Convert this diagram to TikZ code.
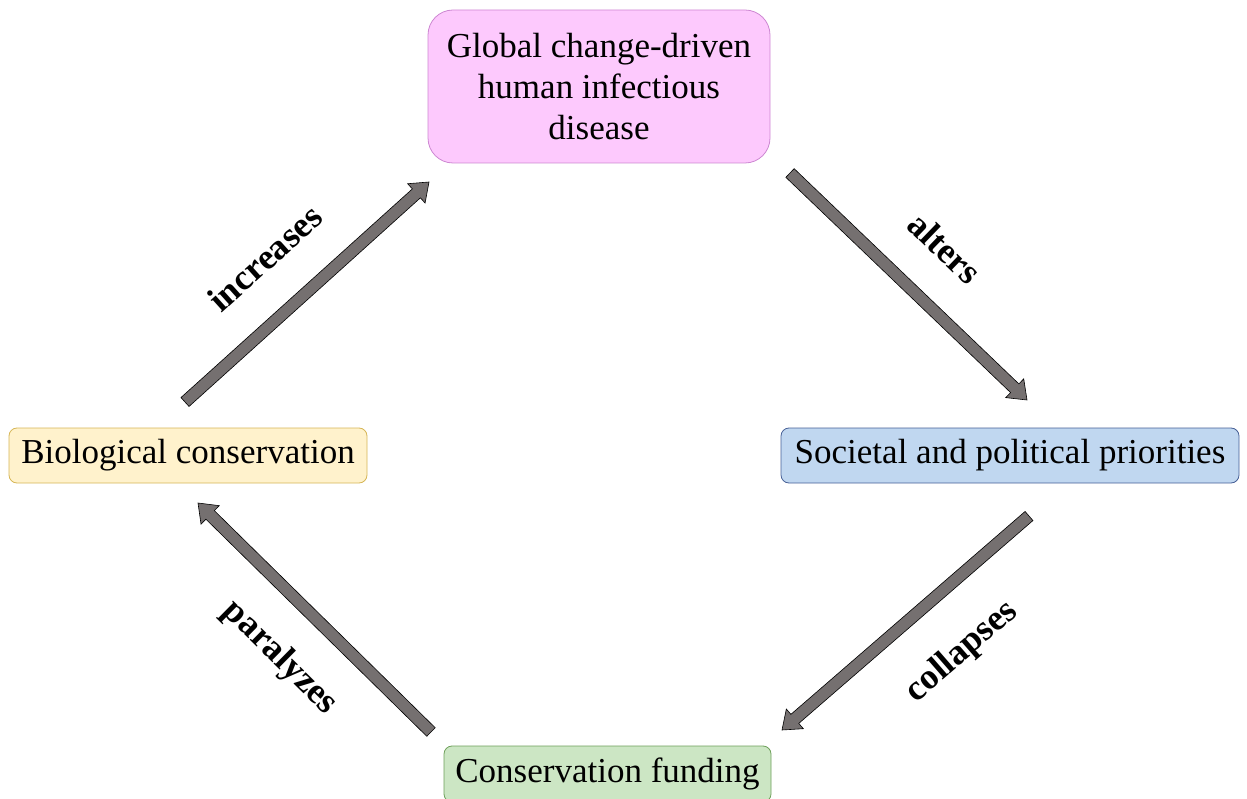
\documentclass[tikz,border=0pt]{standalone}
\usepackage{fontspec}
\setmainfont{Liberation Serif}
\usetikzlibrary{calc}
\definecolor{pinkfill}{RGB}{253,201,253}
\definecolor{pinkline}{RGB}{205,135,210}
\definecolor{yelfill}{RGB}{255,242,204}
\definecolor{yelline}{RGB}{214,182,86}
\definecolor{bluefill}{RGB}{192,215,240}
\definecolor{blueline}{RGB}{70,95,150}
\definecolor{grnfill}{RGB}{204,230,196}
\definecolor{grnline}{RGB}{110,160,90}
\definecolor{arrowgray}{RGB}{117,112,112}
\newcommand\blockarrow[2]{%
  \coordinate (ba-h) at ($(#2)!17pt!(#1)$);
  \draw[barrow] ($(#1)!6pt!90:(#2)$) -- ($(ba-h)!6pt!-90:(#1)$) -- ($(ba-h)!13pt!-90:(#1)$) -- (#2)
    -- ($(ba-h)!13pt!90:(#1)$) -- ($(ba-h)!6pt!90:(#1)$) -- ($(#1)!6pt!-90:(#2)$) -- cycle;
}
\begin{document}
\begin{tikzpicture}[x=1pt,y=-1pt,
  box/.style={draw, line width=0.8pt, inner sep=0pt, font=\fontsize{35}{41}\selectfont, align=center},
  lbl/.style={font=\fontsize{36}{40}\selectfont\bfseries, inner sep=0pt},
  barrow/.style={draw=black, line width=0.6pt, fill=arrowgray, line join=miter}]
\useasboundingbox (0,0) rectangle (1247,799);

\node[box, rounded corners=25pt, fill=pinkfill, draw=pinkline, minimum width=342pt, minimum height=153pt] (top) at (599,86.5)
  {Global change-driven\\human infectious\\disease};
\node[box, rounded corners=8pt, fill=yelfill, draw=yelline, minimum width=358pt, minimum height=55pt] (bio) at (188,455.5)
  {Biological conservation};
\node[box, rounded corners=8pt, fill=bluefill, draw=blueline, minimum width=458pt, minimum height=55pt] (soc) at (1010,455.5)
  {Societal and political priorities};
\node[box, rounded corners=8pt, fill=grnfill, draw=grnline, minimum width=327pt, minimum height=56pt] (fund) at (607.5,774)
  {Conservation funding};

\coordinate (a1s) at (185,402);
\coordinate (a1e) at (429,182);
\coordinate (a2s) at (790,173);
\coordinate (a2e) at (1027,400);
\coordinate (a3s) at (1029,516);
\coordinate (a3e) at (782,730);
\coordinate (a4s) at (431,732);
\coordinate (a4e) at (198,503);

\blockarrow{a1s}{a1e}
\blockarrow{a2s}{a2e}
\blockarrow{a3s}{a3e}
\blockarrow{a4s}{a4e}

\node[lbl, rotate=42] (l1) at (265,258) {increases};
\node[lbl, rotate=-44] (l2) at (945,248) {alters};
\node[lbl, rotate=41] (l3) at (962,652) {collapses};
\node[lbl, rotate=-44.6] (l4) at (280,658) {paralyzes};
\end{tikzpicture}
\end{document}
